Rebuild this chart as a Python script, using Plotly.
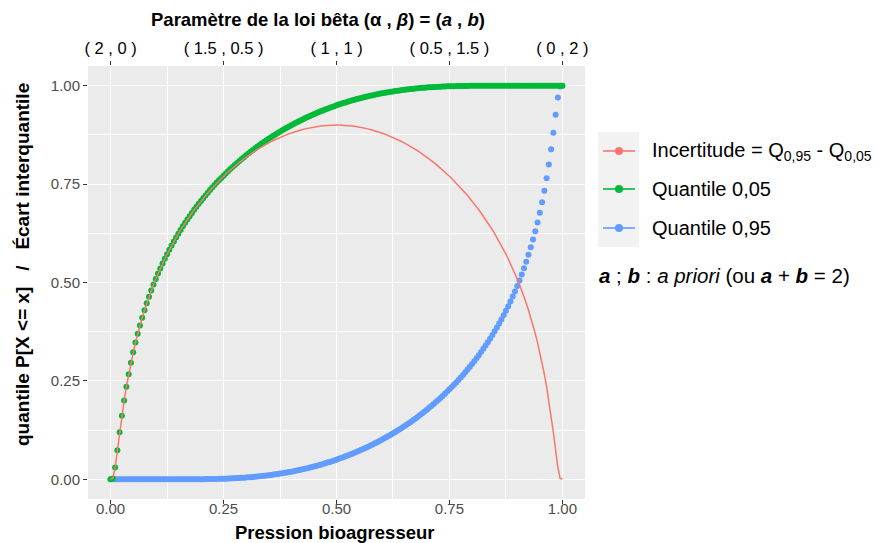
import numpy as np
import plotly.graph_objects as go

# Pression bioagresseur (grille de 0 à 1, pas de 0,005)
pression = np.linspace(0, 1, 201)

# Courbe verte : "Quantile 0,05"
quantile_005 = [
    0.0000, 0.0022, 0.0298, 0.0738, 0.1193, 0.1617, 0.2002, 0.2352, 0.2670, 0.2960,
    0.3226, 0.3473, 0.3699, 0.3910, 0.4106, 0.4293, 0.4472, 0.4641, 0.4798, 0.4948,
    0.5089, 0.5226, 0.5357, 0.5482, 0.5603, 0.5719, 0.5831, 0.5939, 0.6042, 0.6143,
    0.6240, 0.6335, 0.6426, 0.6515, 0.6601, 0.6685, 0.6766, 0.6846, 0.6923, 0.6998,
    0.7071, 0.7143, 0.7213, 0.7281, 0.7347, 0.7412, 0.7476, 0.7538, 0.7598, 0.7657,
    0.7715, 0.7772, 0.7827, 0.7881, 0.7934, 0.7986, 0.8037, 0.8087, 0.8136, 0.8184,
    0.8231, 0.8277, 0.8322, 0.8366, 0.8409, 0.8452, 0.8494, 0.8535, 0.8575, 0.8614,
    0.8652, 0.8689, 0.8726, 0.8762, 0.8797, 0.8832, 0.8866, 0.8899, 0.8932, 0.8964,
    0.8996, 0.9027, 0.9057, 0.9086, 0.9115, 0.9143, 0.9171, 0.9198, 0.9225, 0.9251,
    0.9276, 0.9301, 0.9325, 0.9348, 0.9371, 0.9394, 0.9416, 0.9438, 0.9459, 0.9480,
    0.9500, 0.9520, 0.9539, 0.9557, 0.9575, 0.9593, 0.9610, 0.9627, 0.9643, 0.9659,
    0.9675, 0.9690, 0.9704, 0.9718, 0.9732, 0.9745, 0.9758, 0.9770, 0.9782, 0.9794,
    0.9805, 0.9816, 0.9826, 0.9836, 0.9846, 0.9855, 0.9864, 0.9872, 0.9880, 0.9888,
    0.9896, 0.9903, 0.9910, 0.9917, 0.9923, 0.9929, 0.9935, 0.9940, 0.9945, 0.9950,
    0.9954, 0.9958, 0.9962, 0.9966, 0.9969, 0.9972, 0.9975, 0.9978, 0.9981, 0.9983,
    0.9985, 0.9987, 0.9988, 0.9990, 0.9991, 0.9992, 0.9993, 0.9994, 0.9995, 0.9996,
    0.9997, 0.9997, 0.9998, 0.9998, 0.9999, 0.9999, 0.9999, 0.9999, 1.0000, 1.0000,
    1.0000, 1.0000, 1.0000, 1.0000, 1.0000, 1.0000, 1.0000, 1.0000, 1.0000, 1.0000,
    1.0000, 1.0000, 1.0000, 1.0000, 1.0000, 1.0000, 1.0000, 1.0000, 1.0000, 1.0000,
    1.0000, 1.0000, 1.0000, 1.0000, 1.0000, 1.0000, 1.0000, 1.0000, 1.0000, 1.0000,
    1.0000,
]

# Courbe bleue : "Quantile 0,95"
quantile_095 = [
    0.0000, 0.0000, 0.0000, 0.0000, 0.0000, 0.0000, 0.0000, 0.0000, 0.0000, 0.0000,
    0.0000, 0.0000, 0.0000, 0.0000, 0.0000, 0.0000, 0.0000, 0.0000, 0.0000, 0.0000,
    0.0000, 0.0000, 0.0000, 0.0000, 0.0000, 0.0000, 0.0000, 0.0000, 0.0000, 0.0000,
    0.0000, 0.0000, 0.0000, 0.0001, 0.0001, 0.0001, 0.0001, 0.0002, 0.0002, 0.0003,
    0.0003, 0.0004, 0.0005, 0.0006, 0.0007, 0.0008, 0.0009, 0.0010, 0.0012, 0.0013,
    0.0015, 0.0017, 0.0019, 0.0022, 0.0025, 0.0028, 0.0031, 0.0034, 0.0038, 0.0042,
    0.0046, 0.0050, 0.0055, 0.0060, 0.0065, 0.0071, 0.0077, 0.0083, 0.0090, 0.0097,
    0.0104, 0.0112, 0.0120, 0.0128, 0.0136, 0.0145, 0.0154, 0.0164, 0.0174, 0.0184,
    0.0195, 0.0206, 0.0218, 0.0230, 0.0242, 0.0255, 0.0268, 0.0282, 0.0296, 0.0310,
    0.0325, 0.0341, 0.0357, 0.0373, 0.0390, 0.0407, 0.0425, 0.0443, 0.0461, 0.0480,
    0.0500, 0.0520, 0.0541, 0.0562, 0.0584, 0.0606, 0.0629, 0.0652, 0.0675, 0.0699,
    0.0724, 0.0749, 0.0775, 0.0802, 0.0829, 0.0857, 0.0885, 0.0914, 0.0943, 0.0973,
    0.1004, 0.1036, 0.1068, 0.1101, 0.1134, 0.1168, 0.1203, 0.1238, 0.1274, 0.1311,
    0.1348, 0.1386, 0.1425, 0.1465, 0.1506, 0.1548, 0.1591, 0.1634, 0.1678, 0.1723,
    0.1769, 0.1816, 0.1864, 0.1913, 0.1963, 0.2014, 0.2066, 0.2119, 0.2173, 0.2228,
    0.2285, 0.2343, 0.2402, 0.2462, 0.2524, 0.2588, 0.2653, 0.2719, 0.2787, 0.2857,
    0.2929, 0.3002, 0.3077, 0.3154, 0.3234, 0.3315, 0.3399, 0.3485, 0.3574, 0.3665,
    0.3760, 0.3857, 0.3958, 0.4061, 0.4169, 0.4281, 0.4397, 0.4518, 0.4643, 0.4774,
    0.4911, 0.5052, 0.5202, 0.5359, 0.5528, 0.5707, 0.5894, 0.6090, 0.6301, 0.6527,
    0.6774, 0.7040, 0.7330, 0.7648, 0.7998, 0.8383, 0.8807, 0.9262, 0.9702, 0.9978,
    1.0000,
]

# Incertitude = écart entre les deux quantiles
incertitude = np.abs(np.array(quantile_095) - np.array(quantile_005))

# Axes
x_ticks = [0, 0.25, 0.5, 0.75, 1]
x_ticklabels = ["0.00", "0.25", "0.50", "0.75", "1.00"]
y_ticks = [0, 0.25, 0.5, 0.75, 1]
y_ticklabels = ["0.00", "0.25", "0.50", "0.75", "1.00"]
beta_ticklabels = ["( 2 , 0 )", "( 1.5 , 0.5 )", "( 1 , 1 )", "( 0.5 , 1.5 )", "( 0 , 2 )"]

legend_labels = ["Incertitude = Q<sub>0,95</sub> - Q<sub>0,05</sub>",
                 "Quantile 0,05", "Quantile 0,95"]
colors = ["#F8766D", "#00BA38", "#619CFF"]

FONT = "Liberation Sans, Arial, Helvetica, sans-serif"
W, H = 879, 543
L, R, T, B = 88, 294, 66, 44
PW, PH = W - L - R, H - T - B


def px_x(px):
    return (px - L) / PW


def px_y(py):
    return (H - B - py) / PH


fig = go.Figure()

fig.add_trace(go.Scatter(
    x=pression, y=quantile_095, mode="markers",
    marker=dict(color=colors[2], size=6, line=dict(width=0)),
    showlegend=False, hoverinfo="skip"))
fig.add_trace(go.Scatter(
    x=pression, y=quantile_005, mode="markers",
    marker=dict(color=colors[1], size=6, line=dict(width=0)),
    showlegend=False, hoverinfo="skip"))
fig.add_trace(go.Scatter(
    x=pression, y=incertitude, mode="lines",
    line=dict(color=colors[0], width=1.5),
    showlegend=False, hoverinfo="skip"))
# trace invisible pour porter l'axe du haut
fig.add_trace(go.Scatter(
    x=[0, 1], y=[0, 0], xaxis="x2", mode="markers",
    marker=dict(opacity=0), showlegend=False, hoverinfo="skip"))

axis_common = dict(
    showline=False, zeroline=False, ticks="outside", ticklen=4,
    tickwidth=1, tickcolor="#333333",
    tickfont=dict(family=FONT, size=15, color="#4D4D4D"),
)

fig.update_layout(
    width=W, height=H, autosize=False,
    margin=dict(l=L, r=R, t=T, b=B),
    paper_bgcolor="white", plot_bgcolor="#EBEBEB",
    font=dict(family=FONT, color="black"),
    xaxis=dict(
        range=[-0.05, 1.05], tickvals=x_ticks, ticktext=x_ticklabels,
        showgrid=True, gridcolor="white", gridwidth=1.3,
        ticklabelstandoff=-8,
        minor=dict(tickvals=[0.125, 0.375, 0.625, 0.875], showgrid=True,
                   gridcolor="white", gridwidth=0.6, ticks=""),
        **axis_common),
    xaxis2=dict(
        overlaying="x", side="top", range=[-0.05, 1.05],
        tickvals=x_ticks, ticktext=beta_ticklabels, showgrid=False,
        showline=False, zeroline=False, ticks="outside", ticklen=4,
        tickwidth=1, tickcolor="#333333",
        tickfont=dict(family=FONT, size=16.5, color="black")),
    yaxis=dict(
        range=[-0.05, 1.05], tickvals=y_ticks, ticktext=y_ticklabels,
        showgrid=True, gridcolor="white", gridwidth=1.3,
        minor=dict(tickvals=[0.125, 0.375, 0.625, 0.875], showgrid=True,
                   gridcolor="white", gridwidth=0.6, ticks=""),
        **axis_common),
)

annotations = [
    dict(text="<b>Paramètre de la loi bêta (α , <i>β</i>) = (<i>a</i> , <i>b</i>)</b>",
         x=px_x(318), y=px_y(20), xanchor="center", yanchor="middle",
         font=dict(family=FONT, size=18.5, color="black")),
    dict(text="<b>Pression bioagresseur</b>",
         x=px_x(334), y=px_y(532), xanchor="center", yanchor="middle",
         font=dict(family=FONT, size=18.5, color="black")),
    dict(text="<b>quantile P[X <= x]\u00a0\u00a0\u00a0/\u00a0\u00a0\u00a0Écart interquantile</b>",
         x=px_x(22), y=px_y(265), xanchor="center", yanchor="middle",
         textangle=-90, font=dict(family=FONT, size=19, color="black")),
    dict(text="<b><i>a</i></b> ; <b><i>b</i></b> : <i>a priori</i> (ou <b><i>a</i></b> + <b><i>b</i></b> = 2)",
         x=px_x(597), y=px_y(275), xanchor="left", yanchor="middle",
         font=dict(family=FONT, size=20.5, color="black")),
]

shapes = [dict(type="rect", xref="paper", yref="paper",
               x0=px_x(598), x1=px_x(639), y0=px_y(247), y1=px_y(132),
               fillcolor="#F2F2F2", line=dict(width=0), layer="below")]

legend_rows = [151, 189, 228]
for label, color, row in zip(legend_labels, colors, legend_rows):
    shapes.append(dict(type="line", xref="paper", yref="paper",
                       x0=px_x(603), x1=px_x(635), y0=px_y(row), y1=px_y(row),
                       line=dict(color=color, width=1.6)))
    shapes.append(dict(type="circle", xref="paper", yref="paper",
                       x0=px_x(615), x1=px_x(623), y0=px_y(row + 4), y1=px_y(row - 4),
                       fillcolor=color, line=dict(width=0)))
    annotations.append(dict(text=label, x=px_x(650), y=px_y(row),
                            xanchor="left", yanchor="middle",
                            font=dict(family=FONT, size=20, color="black")))

fig.update_layout(annotations=[dict(a, xref="paper", yref="paper", showarrow=False)
                               for a in annotations],
                  shapes=shapes)

fig.write_html("out.html")
